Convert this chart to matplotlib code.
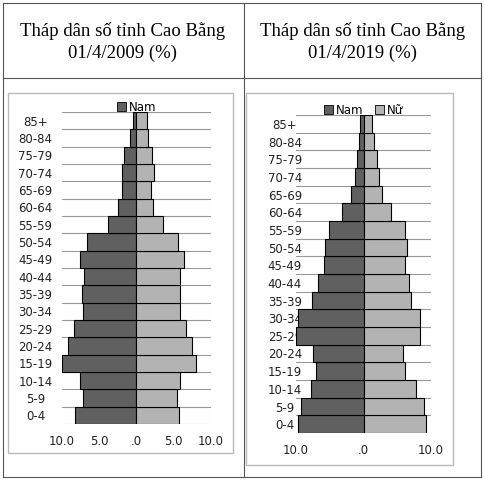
import matplotlib
matplotlib.use("Agg")
import matplotlib.pyplot as plt
import numpy as np
from matplotlib.patches import Rectangle, Patch
from matplotlib.lines import Line2D

age_groups = ["0-4", "5-9", "10-14", "15-19", "20-24", "25-29", "30-34", "35-39", "40-44",
              "45-49", "50-54", "55-59", "60-64", "65-69", "70-74", "75-79", "80-84", "85+"]

male_2009 = [8.2, 7.2, 7.6, 10.0, 9.2, 8.4, 7.2, 7.3, 7.0, 7.6, 6.6, 3.8, 2.5, 1.9, 2.0, 1.7, 0.9, 0.5]
female_2009 = [5.7, 5.4, 5.8, 8.0, 7.4, 6.7, 5.8, 5.9, 5.8, 6.4, 5.6, 3.6, 2.2, 1.9, 2.3, 2.1, 1.5, 1.4]

male_2019 = [9.7, 9.3, 7.8, 7.0, 7.5, 10.0, 9.7, 7.6, 6.7, 5.9, 5.7, 5.1, 3.2, 1.8, 1.2, 0.9, 0.6, 0.5]
female_2019 = [9.2, 9.0, 7.8, 6.2, 5.9, 8.4, 8.3, 7.1, 6.8, 6.2, 6.5, 6.1, 4.0, 2.7, 2.3, 2.0, 1.5, 1.3]

titles = ["Tháp dân số tỉnh Cao Bằng\n01/4/2009 (%)", "Tháp dân số tỉnh Cao Bằng\n01/4/2019 (%)"]

W, H = 484, 480
MALE_C = "#606060"
FEMALE_C = "#b3b3b3"

fig = plt.figure(figsize=(W / 100, H / 100), dpi=100)
fig.patch.set_facecolor("white")


def px_axes(x0, y0, x1, y1):
    return fig.add_axes([x0 / W, 1 - y1 / H, (x1 - x0) / W, (y1 - y0) / H])


# table lines
for coords in [([3, 481], [3, 3]), ([3, 481], [477, 477]), ([3, 3], [3, 477]),
               ([481, 481], [3, 477]), ([3, 481], [78, 78]), ([244, 244], [3, 477])]:
    fig.add_artist(Line2D([c / W for c in coords[0]], [1 - c / H for c in coords[1]],
                          color="#555555", lw=0.8))

# chart frames
for (x0, y0, x1, y1) in [(8, 93, 233, 453), (246, 93, 453, 465)]:
    fig.add_artist(Rectangle((x0 / W, 1 - y1 / H), (x1 - x0) / W, (y1 - y0) / H,
                             fill=False, ec="#bbbbbb", lw=1.0))

for cx, t in zip([123, 363], titles):
    fig.text(cx / W, 1 - 42 / H, t, ha="center", va="center", fontsize=13.5,
             family="Liberation Serif", linespacing=1.35)


def draw_pyramid(ax, male, female, xmax, ticks, ticklabels, legend_labels, label_pad):
    y = np.arange(len(age_groups))
    ax.barh(y, [-m for m in male], height=1.0, color=MALE_C, edgecolor="black", lw=0.8, zorder=3)
    ax.barh(y, female, height=1.0, color=FEMALE_C, edgecolor="black", lw=0.8, zorder=3)
    ax.set_ylim(-0.5, len(age_groups) - 0.5)
    ax.set_xlim(-xmax, xmax)
    ax.set_yticks(y)
    ax.set_yticklabels(age_groups, fontsize=8.5, color="#222222", ha="center")
    ax.set_yticks(np.arange(-0.5, len(age_groups)), minor=True)
    ax.grid(True, axis="y", which="minor", color="#999999", lw=0.8, zorder=0)
    ax.tick_params(axis="y", which="both", length=0, pad=label_pad)
    ax.set_xticks(ticks)
    ax.set_xticklabels(ticklabels, fontsize=8.5, color="#222222")
    ax.tick_params(axis="x", length=0, pad=8)
    for s in ax.spines.values():
        s.set_visible(False)
    ax.axvline(0, color="#999999", lw=0.8, zorder=2)
    handles = [Patch(fc=MALE_C, ec="black", lw=0.6), Patch(fc=FEMALE_C, ec="black", lw=0.6)]
    ax.legend(handles[:len(legend_labels)], legend_labels, loc="lower center",
              bbox_to_anchor=(0.5, 0.99), ncol=2, frameon=False, fontsize=8.5,
              handlelength=0.8, handleheight=0.8, handletextpad=0.2, columnspacing=1.0,
              borderaxespad=0, borderpad=0.1)


ax1 = px_axes(62, 112, 211, 424)
draw_pyramid(ax1, male_2009, female_2009, 10, [-10, -5, 0, 5, 10],
             ["10.0", "5.0", ".0", "5.0", "10.0"], ["Nam"], 19)

ax2 = px_axes(296, 115, 431, 433)
draw_pyramid(ax2, male_2019, female_2019, 10, [-10, 0, 10],
             ["10.0", ".0", "10.0"], ["Nam", "Nữ"], 8)

plt.savefig("out.png", dpi=100, facecolor="white")
